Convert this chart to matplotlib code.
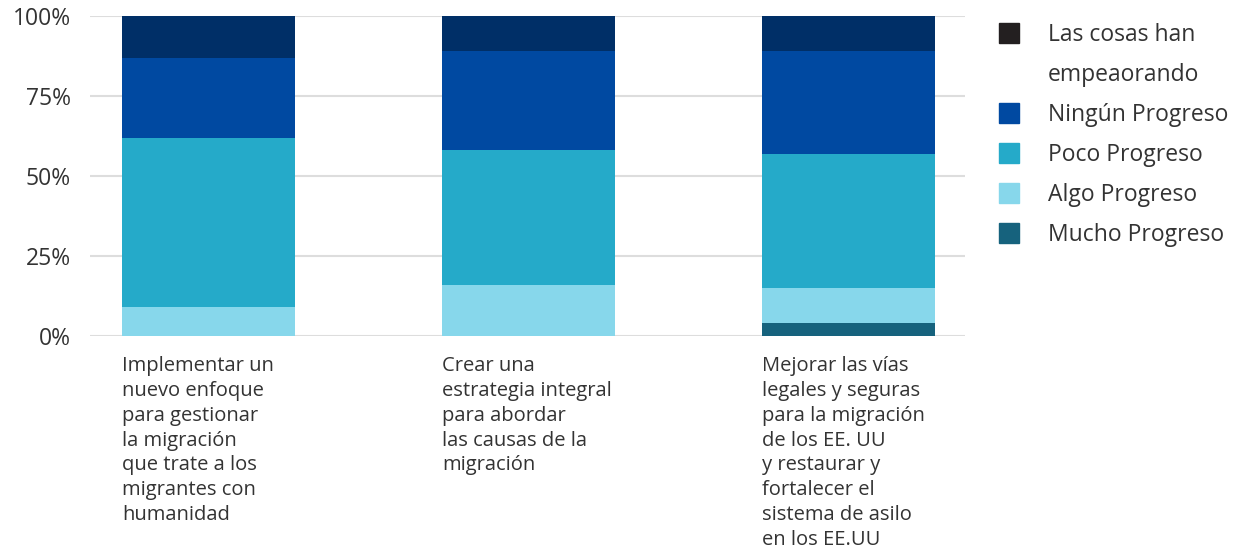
import matplotlib
matplotlib.use("Agg")
import matplotlib.pyplot as plt
from matplotlib.patches import Rectangle
import numpy as np

plt.rcParams['font.family'] = ['Open Sans', 'DejaVu Sans']

# data
categories = ["Implementar un\nnuevo enfoque\npara gestionar\nla migración\nque trate a los\nmigrantes con\nhumanidad",
              "Crear una\nestrategia integral\npara abordar\nlas causas de la\nmigración",
              "Mejorar las vías\nlegales y seguras\npara la migración\nde los EE. UU\ny restaurar y\nfortalecer el\nsistema de asilo\nen los EE.UU"]
mucho = [0, 0, 4]
algo = [9, 16, 11]
poco = [53, 42, 42]
ningun = [25, 31, 32]
empeorando = [13, 11, 11]

series = [("Mucho Progreso", mucho, "#16627d"),
          ("Algo Progreso", algo, "#87d7eb"),
          ("Poco Progreso", poco, "#25aac9"),
          ("Ningún Progreso", ningun, "#0049a1"),
          ("Las cosas han\nempeaorando", empeorando, "#002f67")]

fig = plt.figure(figsize=(12.41, 5.5), dpi=100)
ax = fig.add_axes([90/1241, 1-336/550, 875/1241, 320/550])

x = np.arange(len(categories))
bottom = np.zeros(len(categories))
for name, vals, col in series:
    ax.bar(x, vals, bottom=bottom, width=0.54, color=col, zorder=3)
    bottom += np.array(vals)

ax.set_ylim(0, 100)
ax.set_xlim(-0.37, 2.364)
ax.set_yticks([0, 25, 50, 75, 100])
ax.set_yticklabels(["0%", "25%", "50%", "75%", "100%"], fontsize=16.5, color="#333333")
ax.yaxis.grid(True, color="#dddddd", linewidth=1.5, zorder=0)
for s in ax.spines.values():
    s.set_visible(False)
ax.tick_params(axis='y', length=0, pad=14)
ax.set_xticks([])

for i, lab in enumerate(categories):
    ax.text(i - 0.27, -6.3, lab, ha='left', va='top', fontsize=14.5,
            color="#333333", linespacing=1.32, transform=ax.transData)

# legend
leg = [("Las cosas han\nempeaorando", "#231f20", 33),
       ("Ningún Progreso", "#0049a1", 113),
       ("Poco Progreso", "#25aac9", 153),
       ("Algo Progreso", "#87d7eb", 193),
       ("Mucho Progreso", "#16627d", 233)]
for name, col, yc in leg:
    fig.add_artist(Rectangle((999/1241, 1-(yc+10)/550), 20/1241, 20/550,
                             color=col, transform=fig.transFigure))
    for k, line in enumerate(name.split("\n")):
        fig.text(1048/1241, 1-(yc+2+40*k)/550, line, ha='left', va='center',
                 fontsize=16.5, color="#333333")

fig.savefig("out.png", dpi=100)
